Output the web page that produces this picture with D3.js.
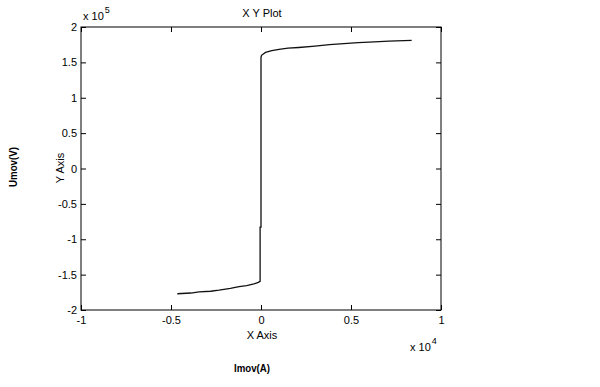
<!DOCTYPE html>
<html>
<head>
<meta charset="utf-8">
<script src="https://cdn.jsdelivr.net/npm/d3@7"></script>
<style>
  html, body { margin: 0; padding: 0; background: #fff; }
  svg { display: block; font-family: "Liberation Sans", Arial, sans-serif; }
</style>
</head>
<body>
<svg id="chart" width="600" height="387"></svg>
<script>
// Data (current in A, voltage in V)
const currentA = [-4650, -3900, -3440, -2800, -2330, -1700, -1220, -800, -390, -150, -50, -50, -50, 0, 0, 30, 250, 600, 1000, 1500, 2100, 3000, 3800, 4600, 5400, 6300, 7100, 8370];
const voltageV = [-177000, -176000, -174500, -173500, -172000, -169500, -167000, -165500, -163000, -161000, -159400, -120000, -83000, -83000, 157000, 160000, 164000, 166500, 168500, 170000, 171000, 173000, 175000, 176500, 178000, 179000, 180000, 181000];
const xTicks = [-10000, -5000, 0, 5000, 10000];
const yTicks = [-200000, -150000, -100000, -50000, 0, 50000, 100000, 150000, 200000];

const svg = d3.select("#chart");
const L = 81, R = 441, T = 27, B = 310;

const x = d3.scaleLinear().domain([-10000, 10000]).range([L, R]);
const y = d3.scaleLinear().domain([-200000, 200000]).range([B, T]);

const fmtX = d => { const v = d / 1e4; return (v < 0 ? "-" : "") + Math.abs(v); };
const fmtY = d => { const v = d / 1e5; return (v < 0 ? "-" : "") + Math.abs(v); };

// Frame
svg.append("rect").attr("x", L).attr("y", T).attr("width", R - L).attr("height", B - T)
  .attr("fill", "none").attr("stroke", "#000").attr("stroke-width", 1);

const styleAxis = g => {
  g.select(".domain").remove();
  g.selectAll("line").attr("stroke", "#000");
  g.selectAll("text").attr("font-size", 11).attr("fill", "#000");
};

svg.append("g").attr("transform", `translate(0,${B})`)
  .call(d3.axisBottom(x).tickValues(xTicks).tickFormat(fmtX).tickSizeInner(-5).tickSizeOuter(0).tickPadding(6))
  .call(styleAxis);
svg.append("g").attr("transform", `translate(0,${T})`)
  .call(d3.axisTop(x).tickValues(xTicks).tickFormat("").tickSizeInner(-5).tickSizeOuter(0))
  .call(styleAxis);
svg.append("g").attr("transform", `translate(${L},0)`)
  .call(d3.axisLeft(y).tickValues(yTicks).tickFormat(fmtY).tickSizeInner(-5).tickSizeOuter(0).tickPadding(4))
  .call(styleAxis);
svg.append("g").attr("transform", `translate(${R},0)`)
  .call(d3.axisRight(y).tickValues(yTicks).tickFormat("").tickSizeInner(-5).tickSizeOuter(0))
  .call(styleAxis);

// Curve
const pts = currentA.map((c, i) => [c, voltageV[i]]);
svg.append("path").datum(pts)
  .attr("d", d3.line().x(d => x(d[0])).y(d => y(d[1])))
  .attr("fill", "none").attr("stroke", "#111").attr("stroke-width", 1.3);

// Texts
svg.append("text").attr("x", 262).attr("y", 17).attr("text-anchor", "middle")
  .attr("font-size", 11).text("X Y Plot");
svg.append("text").attr("x", 262).attr("y", 339).attr("text-anchor", "middle")
  .attr("font-size", 11).text("X Axis");
svg.append("text").attr("transform", "translate(64,168) rotate(-90)").attr("text-anchor", "middle")
  .attr("font-size", 11).text("Y Axis");

// exponent labels
const e5 = svg.append("text").attr("x", 83).attr("y", 20).attr("font-size", 11);
e5.append("tspan").text("x 10");
e5.append("tspan").attr("dx", 1).attr("dy", -7).attr("font-size", 9).text("5");
const e4 = svg.append("text").attr("x", 410).attr("y", 351).attr("font-size", 11);
e4.append("tspan").text("x 10");
e4.append("tspan").attr("dx", 1).attr("dy", -7).attr("font-size", 9).text("4");

// outer labels
svg.append("text").attr("x", 252).attr("y", 372).attr("text-anchor", "middle")
  .attr("font-size", 11).attr("font-weight", "bold").attr("transform", "translate(252,0) scale(0.88,1) translate(-252,0)")
  .text("Imov(A)");
svg.append("text").attr("transform", "translate(17,167) rotate(-90) scale(0.88,1)").attr("text-anchor", "middle")
  .attr("font-size", 11).attr("font-weight", "bold").text("Umov(V)");
</script>
</body>
</html>
